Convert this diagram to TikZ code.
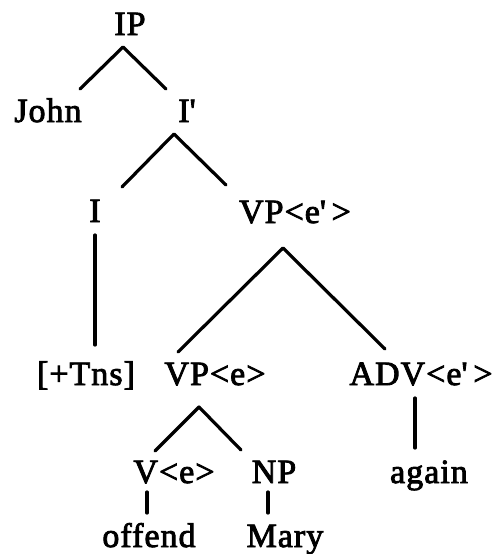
\documentclass[tikz,border=0pt]{standalone}
\usepackage{fontspec}
\setmainfont{Liberation Serif}[FakeBold=2.5,LetterSpace=3]
\newcommand{\apos}{\textquotesingle}
\begin{document}
\begin{tikzpicture}[x=1pt,y=-1pt,
  lbl/.style={anchor=base,inner sep=0pt,font=\fontsize{34}{40}\selectfont},
  edge/.style={line width=3.2pt,line cap=round,line join=round}]
\useasboundingbox (0,0) rectangle (496,554);
\node[lbl] (IP) at (130,35) {IP};
\node[lbl] (John) at (48,122) {John};
\node[lbl] (Ib) at (187,122) {I\apos};
\node[lbl] (I) at (95,222) {I};
\node[lbl] (VPp) at (295,223) {VP<e\apos\,>};
\node[lbl] (Tns) at (86,385) {[+Tns]};
\node[lbl] (VPe) at (215,385) {VP<e>};
\node[lbl] (ADV) at (421,385) {ADV<e\apos\,>};
\node[lbl] (V) at (174,483) {V<e>};
\node[lbl] (NP) at (274,483) {NP};
\node[lbl] (again) at (429,483) {again};
\node[lbl] (offend) at (149,547) {offend};
\node[lbl] (Mary) at (285,547) {Mary};
% connectors
\draw[edge] ([shift={(32,-33)}]John.base) -- ([shift={(-7,12)}]IP.base) -- ([shift={(-21,-33)}]Ib.base);
\draw[edge] ([shift={(27,-35)}]I.base) -- ([shift={(-13,12)}]Ib.base) -- ([shift={(-69,-38)}]VPp.base);
\draw[edge] ([shift={(0,13)}]I.base) -- ([shift={(9,-40)}]Tns.base);
\draw[edge] ([shift={(-37,-33)}]VPe.base) -- ([shift={(-12,25)}]VPp.base) -- ([shift={(-36,-36)}]ADV.base);
\draw[edge] ([shift={(-19,-32)}]V.base) -- ([shift={(-16,22)}]VPe.base) -- ([shift={(-33,-33)}]NP.base);
\draw[edge] ([shift={(-6,13)}]ADV.base) -- ([shift={(-14,-35)}]again.base);
\draw[edge] ([shift={(-27,9)}]V.base) -- ([shift={(-2,-34)}]offend.base);
\draw[edge] ([shift={(-6,9)}]NP.base) -- ([shift={(-17,-34)}]Mary.base);
\end{tikzpicture}
\end{document}
